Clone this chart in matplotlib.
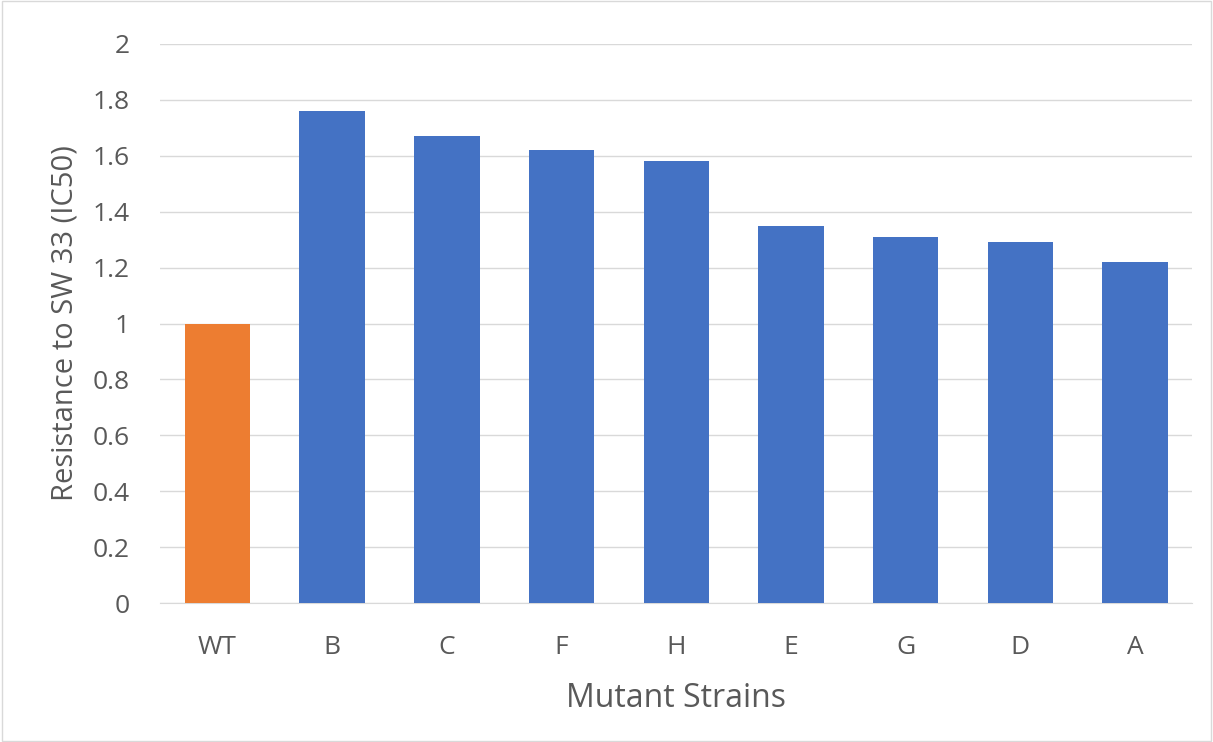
import matplotlib
matplotlib.use("Agg")
import matplotlib.pyplot as plt
from matplotlib.patches import Rectangle

# strains and resistance values (IC50 relative to WT)
strains = ["WT", "B", "C", "F", "H", "E", "G", "D", "A"]
resistance = [1.0, 1.76, 1.67, 1.62, 1.58, 1.35, 1.31, 1.29, 1.22]
bar_colors = ["#ED7D31"] + ["#4472C4"] * 8
y_ticks = [0, 0.2, 0.4, 0.6, 0.8, 1, 1.2, 1.4, 1.6, 1.8, 2]
y_tick_labels = ["0", "0.2", "0.4", "0.6", "0.8", "1", "1.2", "1.4", "1.6", "1.8", "2"]

plt.rcParams['font.family'] = ['Open Sans', 'DejaVu Sans']

fig = plt.figure(figsize=(12.13, 7.42), dpi=100)
ax = fig.add_axes([0.132, 0.187, 0.851, 0.754])

x = range(len(strains))
ax.bar(x, resistance, width=0.57, color=bar_colors, zorder=3)

ax.set_xlim(-0.5, len(strains) - 0.5)
ax.set_ylim(0, 2)
ax.set_yticks(y_ticks)
ax.set_yticklabels(y_tick_labels)
ax.set_xticks(list(x))
ax.set_xticklabels(strains)

ax.grid(axis="y", color="#D9D9D9", linewidth=1, zorder=0)
for side in ["top", "right", "left"]:
    ax.spines[side].set_visible(False)
ax.spines["bottom"].set_color("#D9D9D9")
ax.tick_params(axis="both", length=0, labelsize=19, colors="#595959")
ax.tick_params(axis="x", pad=23)
ax.tick_params(axis="y", pad=22)

ax.set_xlabel("Mutant Strains", fontsize=23, color="#595959", labelpad=16)
ax.set_ylabel("Resistance to SW 33 (IC50)", fontsize=21, color="#595959", labelpad=9)

# light border around the whole chart
fig.patches.append(Rectangle((0.002, 0.002), 0.996, 0.996, transform=fig.transFigure,
                             fill=False, edgecolor="#D9D9D9", linewidth=1))

fig.savefig("out.png", dpi=100)
